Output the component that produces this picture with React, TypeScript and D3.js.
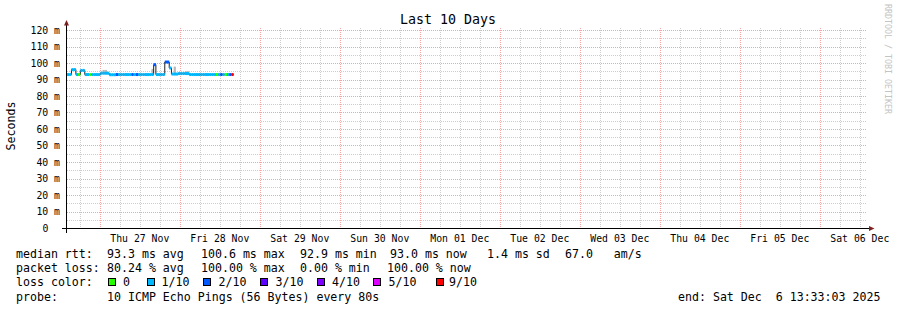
import React from 'react';
import * as d3 from 'd3';

const END = new Date(2025, 11, 6, 13, 33, 3);
const START = d3.timeDay.offset(END, -10);
const DATA_START = new Date(2025, 10, 26, 14, 9, 0);
const STEP_MIN = 40;

const titleText = 'Last 10 Days';
const yAxisLabel = 'Seconds';
const watermark = 'RRDTOOL / TOBI OETIKER';

const medianRtt = [
  93.0, 93.0, 96.0, 96.0, 93.0, 93.0, 95.5, 95.5, 93.0, 93.0,
  93.0, 93.0, 93.0, 93.0, 93.0, 93.8, 93.8, 93.8, 93.8, 92.9,
  92.9, 92.9, 93.0, 93.0, 93.0, 93.0, 93.0, 93.0, 93.0, 93.0,
  93.0, 93.0, 93.0, 93.0, 93.0, 93.0, 93.0, 93.0, 93.0, 99.0,
  93.0, 93.0, 93.0, 93.0, 100.6, 100.6, 97.0, 93.3, 93.3, 93.3,
  93.6, 93.6, 93.6, 93.6, 93.6, 93.0, 93.0, 93.0, 93.0, 93.0,
  93.0, 93.0, 93.0, 93.0, 93.0, 93.0, 93.0, 93.0, 93.0, 93.0,
  93.0, 93.0, 93.0, 93.0, 93.0,
];

const lossCount = [
  1, 1, 1, 1, 1, 0, 1, 1, 1, 1,
  0, 1, 1, 1, 1, 1, 1, 1, 1, 1,
  1, 1, 2, 1, 1, 1, 1, 1, 1, 2,
  1, 2, 1, 1, 1, 1, 1, 1, 1, 2,
  1, 1, 1, 1, 2, 2, 1, 1, 1, 1,
  1, 1, 1, 1, 1, 1, 1, 1, 1, 1,
  1, 1, 1, 1, 1, 1, 1, 0, 1, 2,
  1, 0, 1, 2, 9,
];

const smokeHi: (number | null)[] = [
  null, null, null, null, null, null, null, null, null, null,
  null, null, null, null, null, null, 95.8, 95.8, null, null,
  null, null, null, null, null, null, null, null, null, null,
  null, null, null, null, null, null, null, null, 96.4, null,
  null, null, null, null, null, null, null, null, 97.8, null,
  null, null, null, 95.0, 95.0, null, null, null, null, null,
  null, null, null, null, null, null, null, null, null, null,
  null, null, null, null, null,
];

const yTickValues = [0, 10, 20, 30, 40, 50, 60, 70, 80, 90, 100, 110, 120];
const yMinorValues = [5, 15, 25, 35, 45, 55, 65, 75, 85, 95, 105, 115];

const lossKeys = [0, 1, 2, 3, 4, 5, 9];
const lossLabels = ['0', '1/10', '2/10', '3/10', '4/10', '5/10', '9/10'];
const lossColors = ['#26ff00', '#00b8ff', '#0059ff', '#5e00ff', '#7e00ff', '#dd00ff', '#ff0000'];

const rttLabel = 'median rtt:';
const rttStats = ['93.3 ms avg', '100.6 ms max', '92.9 ms min', '93.0 ms now', '1.4 ms sd', '67.0   am/s'];
const lossLabel = 'packet loss:';
const lossStats = ['80.24 % avg', '100.00 % max', '0.00 % min', '100.00 % now'];
const lossColorLabel = 'loss color:';
const probeLabel = 'probe:';
const probeText = '10 ICMP Echo Pings (56 Bytes) every 80s';
const endText = 'end: Sat Dec  6 13:33:03 2025';

const MONO = '"DejaVu Sans Mono", monospace';

export default function App() {
  const W = 897, H = 310;
  const x = d3.scaleTime().domain([START, END]).range([65, 865]);
  const y = d3.scaleLinear().domain([0, 120]).range([228, 30]);
  const colorOf = d3.scaleOrdinal<number, string>().domain(lossKeys).range(lossColors);

  const times = medianRtt.map((_, i) => d3.timeMinute.offset(DATA_START, i * STEP_MIN));
  const tEnd = d3.timeMinute.offset(DATA_START, medianRtt.length * STEP_MIN);
  const xs = [...times, tEnd].map((t) => x(t));

  const minorV = d3.timeHour.every(6)!.range(START, END).filter((t) => t.getHours() !== 0);
  const majorV = d3.timeDay.range(d3.timeDay.ceil(START), END);
  const dayLabels = majorV.map((d) => d3.timeHour.offset(d, 12)).filter((t) => t <= END);
  const fmt = d3.timeFormat('%a %d %b');

  const stepPts: [number, number][] = medianRtt.map((v, i) => [xs[i], y(v)]);
  stepPts.push([xs[xs.length - 1], y(medianRtt[medianRtt.length - 1])]);
  const stepPath = d3.line().curve(d3.curveStepAfter)(stepPts) || '';

  const px = (v: number) => Math.round(v) + 0.5;
  const gridGray = '#cdcdcd';
  const gridRed = '#f4a4a4';

  const legendRowY = [257.5, 272, 286, 300.5];
  const statX = [107, 201, 300, 390, 487, 565];
  const lossStatX = [107, 201, 300, 387];
  const boxX = [108, 147, 203, 260, 317, 373, 436];
  const boxTextX = [123, 161.5, 218.5, 275.5, 332, 388.5, 449];

  return (
    <svg width={W} height={H} style={{ position: 'absolute', left: 0, top: 0, background: '#fff' }} fontFamily={MONO}>
      <rect x={0} y={0} width={W} height={H} fill="#fff" />
      {yMinorValues.map((v) => (
        <line key={'hm' + v} x1={67} x2={867} y1={px(y(v))} y2={px(y(v))} stroke={gridGray} strokeDasharray="1,1" shapeRendering="crispEdges" />
      ))}
      {minorV.map((t) => (
        <line key={'vm' + +t} x1={px(x(t))} x2={px(x(t))} y1={28} y2={228} stroke={gridGray} strokeDasharray="1,1" shapeRendering="crispEdges" />
      ))}
      {yTickValues.filter((v) => v > 0).map((v) => (
        <line key={'hM' + v} x1={67} x2={867} y1={px(y(v))} y2={px(y(v))} stroke={gridRed} strokeDasharray="1,1" shapeRendering="crispEdges" />
      ))}
      {majorV.map((t) => (
        <line key={'vM' + +t} x1={px(x(t))} x2={px(x(t))} y1={28} y2={228} stroke={gridRed} strokeDasharray="1,1" shapeRendering="crispEdges" />
      ))}

      {smokeHi.map((v, i) =>
        v == null ? null : (
          <rect key={'s' + i} x={xs[i]} width={xs[i + 1] - xs[i]} y={y(v)} height={y(medianRtt[i]) - y(v)} fill="#b8b8b8" />
        )
      )}
      <path d={stepPath} fill="none" stroke="#202020" strokeWidth={1} />
      {medianRtt.map((v, i) => (
        <line key={'m' + i} x1={xs[i]} x2={xs[i + 1]} y1={y(v)} y2={y(v)} stroke={colorOf(lossCount[i])} strokeWidth={3} />
      ))}

      <line x1={62} x2={869} y1={228.5} y2={228.5} stroke="#000" strokeWidth={1} />
      <line x1={66.5} x2={66.5} y1={233} y2={24} stroke="#000" strokeWidth={1} />
      <polygon points="64,25.5 69,25.5 66.5,20" fill="#7f1f1f" />
      <polygon points="869,226 869,231 874.5,228.5" fill="#7f1f1f" />

      {yTickValues.map((v) => (
        <text key={'yl' + v} x={v === 0 ? 48.5 : 60} y={y(v) + 3.5} fontSize={9.8} textAnchor="end" fill="#000">
          {v === 0 ? '0' : `${v} m`}
        </text>
      ))}
      {dayLabels.map((t) => (
        <text key={'xl' + +t} x={x(t)} y={241.5} fontSize={9.8} textAnchor="middle" fill="#000">
          {fmt(t)}
        </text>
      ))}

      <text x={448} y={24} fontSize={13.3} textAnchor="middle" fill="#000">{titleText}</text>
      <text transform="translate(15,126) rotate(-90)" fontSize={11.6} textAnchor="middle" fill="#000">{yAxisLabel}</text>
      <text transform="translate(884.5,4) rotate(90)" fontSize={8.3} fill="#c4c4c4">{watermark}</text>

      <g fontSize={11.6} fill="#000" style={{ whiteSpace: 'pre' }}>
        <text x={16} y={legendRowY[0]}>{rttLabel}</text>
        {rttStats.map((s, i) => (
          <text key={'r' + i} x={statX[i]} y={legendRowY[0]} xmlSpace="preserve">{s}</text>
        ))}
        <text x={16} y={legendRowY[1]}>{lossLabel}</text>
        {lossStats.map((s, i) => (
          <text key={'l' + i} x={lossStatX[i]} y={legendRowY[1]} xmlSpace="preserve">{s}</text>
        ))}
        <text x={16} y={legendRowY[2]}>{lossColorLabel}</text>
        {lossKeys.map((k, i) => (
          <g key={'b' + k}>
            <rect x={boxX[i] + 0.5} y={278.5} width={7} height={7} fill={colorOf(k)} stroke="#000" strokeWidth={1} />
            <text x={boxTextX[i]} y={legendRowY[2]}>{lossLabels[i]}</text>
          </g>
        ))}
        <text x={16} y={legendRowY[3]}>{probeLabel}</text>
        <text x={107} y={legendRowY[3]}>{probeText}</text>
        <text x={678} y={legendRowY[3]} xmlSpace="preserve">{endText}</text>
      </g>
    </svg>
  );
}
